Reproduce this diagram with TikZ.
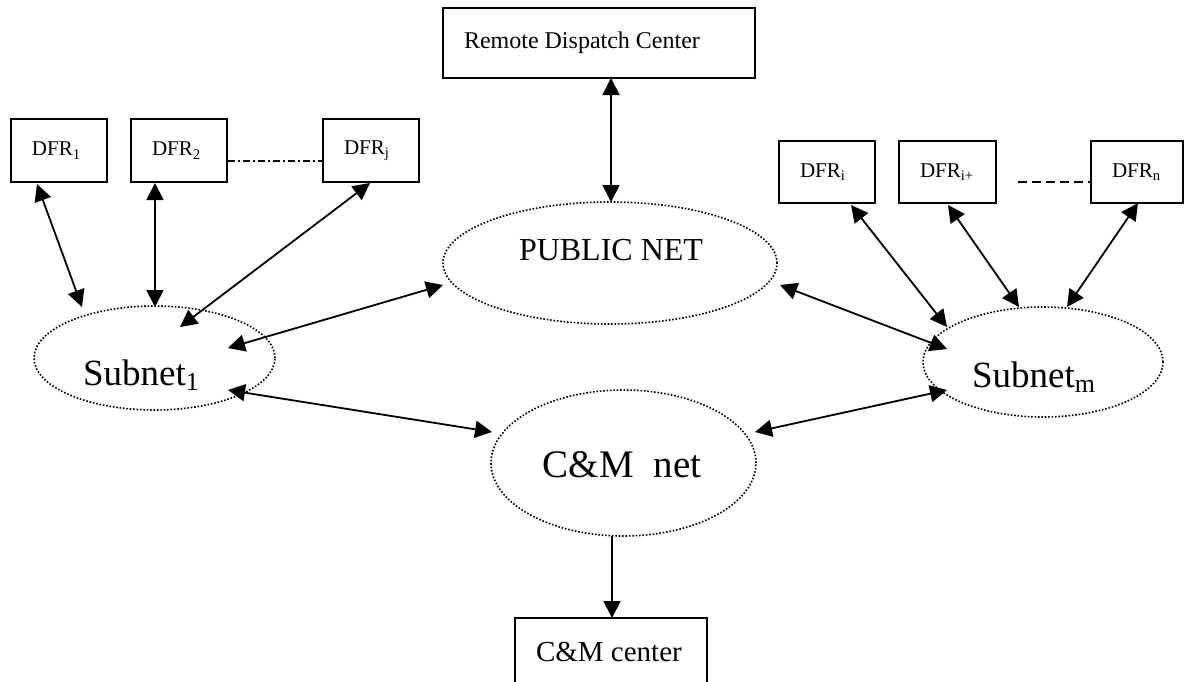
\documentclass[tikz,border=0pt]{standalone}
\usepackage{fontspec}
\setmainfont{Liberation Serif}
\usetikzlibrary{arrows.meta,shapes.geometric}
\begin{document}
\begin{tikzpicture}[x=0.5pt,y=-0.5pt,
  box/.style={draw, line width=0.9pt, rectangle, inner xsep=10.5pt, inner ysep=0pt},
  net/.style={draw, ellipse, line width=0.8pt, dash pattern=on 0.8pt off 0.9pt, inner sep=0pt},
  arr/.style={line width=0.9pt, {Triangle[length=8.5pt,width=8.5pt]}-{Triangle[length=8.5pt,width=8.5pt]}},
  arrone/.style={line width=0.9pt, -{Triangle[length=8.5pt,width=8.5pt]}},
  dfrfont/.style={font=\fontsize{10.5}{12}\selectfont},
  lbl/.style={anchor=base, inner sep=0pt}]
\useasboundingbox (0,0) rectangle (1184,681);

% boxes
\node[box, font=\fontsize{12}{14}\selectfont, minimum height=35pt] (rdc) at (599,43) {\makebox[135pt][l]{Remote Dispatch Center}};
\node[box, dfrfont, minimum height=31.5pt] (dfr1) at (59,150.5) {\makebox[27pt][l]{DFR\textsubscript{1}}};
\node[box, dfrfont, minimum height=31.5pt] (dfr2) at (179,150.5) {\makebox[27pt][l]{DFR\textsubscript{2}}};
\node[box, dfrfont, minimum height=31.5pt] (dfrj) at (371,150.5) {\makebox[27pt][l]{DFR\textsubscript{j}}};
\node[box, dfrfont, minimum height=31pt] (dfri) at (827,172) {\makebox[27pt][l]{DFR\textsubscript{i}}};
\node[box, dfrfont, minimum height=31pt] (dfrip) at (947.5,172) {\makebox[27.5pt][l]{DFR\textsubscript{i+}}};
\node[box, dfrfont, minimum height=31pt] (dfrn) at (1137,172) {\makebox[25pt][l]{DFR\textsubscript{n}}};
\node[box, font=\fontsize{14.5}{17}\selectfont, minimum height=34pt] (cmc) at (611,652) {\makebox[75pt][l]{C\&M center}};

% nets
\node[net, minimum width=167pt, minimum height=61pt] (pub) at (610,263) {};
\node[net, minimum width=120.5pt, minimum height=52pt] (sub1) at (154.5,358) {};
\node[net, minimum width=120pt, minimum height=55pt] (subm) at (1043,362) {};
\node[net, minimum width=132.5pt, minimum height=73pt] (cmn) at (623.5,463) {};

\node[lbl, font=\fontsize{16}{19}\selectfont] (pubt) at ([shift={(1,-2.3)}]pub.center) {PUBLIC NET};
\node[lbl, font=\fontsize{18.5}{22}\selectfont] (sub1t) at ([shift={(-13,27)}]sub1.center) {Subnet\textsubscript{1}};
\node[lbl, font=\fontsize{18.5}{22}\selectfont] (submt) at ([shift={(-9,25)}]subm.center) {Subnet\textsubscript{m}};
\node[lbl, font=\fontsize{19.5}{23}\selectfont] (cmnt) at ([shift={(-1.5,14)}]cmn.center) {C\&M\hspace{10pt}net};

% dotted / dashed links between DFR boxes
\draw[line width=0.8pt, dash pattern=on 3.5pt off 1.5pt on 1pt off 1.5pt]
  ([shift={(0,10.5)}]dfr2.east) -- ([shift={(0,10.5)}]dfrj.west);
\coordinate (dstart) at (1018,182);
\draw[line width=0.8pt, dash pattern=on 4.5pt off 2.5pt] (dstart) -- ([shift={(0,10)}]dfrn.west);

% arrows
\draw[arr] ([shift={(-22,33.5)}]dfr1.center) -- ([shift={(-72.5,-51)}]sub1.center);
\draw[arr] ([shift={(-24,32.5)}]dfr2.center) -- ([shift={(0.5,-51)}]sub1.center);
\draw[arr] ([shift={(-1,32.5)}]dfrj.center) -- ([shift={(25.5,-31)}]sub1.center);
\draw[arr] ([shift={(73.5,-10)}]sub1.center) -- ([shift={(-167,22)}]pub.center);
\draw[arr] ([shift={(73.5,32)}]sub1.center) -- ([shift={(-131.5,-31)}]cmn.center);
\draw[arr] ([shift={(170,22)}]pub.center) -- ([shift={(-96,-13)}]subm.center);
\draw[arr] ([shift={(131.5,-31)}]cmn.center) -- ([shift={(-96,28)}]subm.center);
\draw[arr] ([shift={(24,33)}]dfri.center) -- ([shift={(-96,-35)}]subm.center);
\draw[arr] ([shift={(0.5,33)}]dfrip.center) -- ([shift={(-24,-55)}]subm.center);
\draw[arr] ([shift={(1,31)}]dfrn.center) -- ([shift={(24,-55)}]subm.center);
\draw[arr] ([shift={(12,35)}]rdc.center) -- ([shift={(1,-61)}]pub.center);
\draw[arrone] ([shift={(-11.5,73)}]cmn.center) -- ([shift={(1,-34)}]cmc.center);
\end{tikzpicture}
\end{document}
